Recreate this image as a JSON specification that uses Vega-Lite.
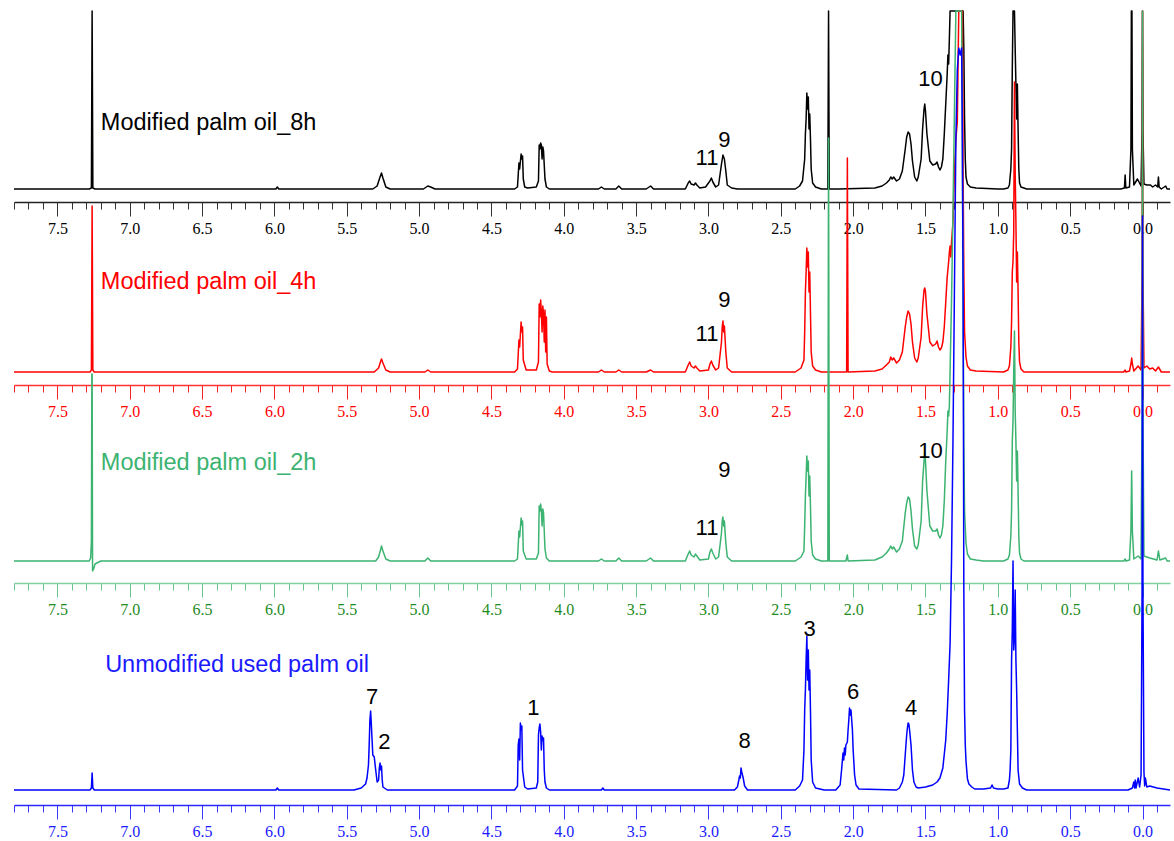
{
"$schema": "https://vega.github.io/schema/vega-lite/v6.json",
"padding": {"left": 13, "top": 10, "right": 3, "bottom": 0},
"background": "white",
"config": {"view": {"stroke": null}, "line": {"strokeJoin": "round", "strokeCap": "butt"}},
"bounds": "flush",
"spacing": 40,
"datasets": {
"k8": [{"x":7.8,"y":0},{"x":7.28,"y":0},{"x":7.265,"y":1},{"x":7.26,"y":178},{"x":7.255,"y":1},{"x":7.24,"y":0},{"x":5.99,"y":0},{"x":5.98,"y":2},{"x":5.97,"y":0},{"x":5.32,"y":0},{"x":5.29,"y":3},{"x":5.27,"y":12},{"x":5.26,"y":16},{"x":5.25,"y":11},{"x":5.23,"y":2},{"x":5.2,"y":0},{"x":4.97,"y":0},{"x":4.94,"y":3},{"x":4.92,"y":2},{"x":4.89,"y":0},{"x":4.34,"y":0},{"x":4.32,"y":2},{"x":4.31,"y":26},{"x":4.305,"y":20},{"x":4.295,"y":35},{"x":4.29,"y":30},{"x":4.285,"y":33},{"x":4.28,"y":10},{"x":4.27,"y":2},{"x":4.25,"y":1},{"x":4.19,"y":2},{"x":4.175,"y":8},{"x":4.17,"y":44},{"x":4.165,"y":40},{"x":4.16,"y":46},{"x":4.155,"y":44},{"x":4.15,"y":30},{"x":4.145,"y":42},{"x":4.14,"y":38},{"x":4.13,"y":10},{"x":4.12,"y":2},{"x":4.1,"y":0},{"x":3.76,"y":0},{"x":3.74,"y":2},{"x":3.72,"y":0},{"x":3.64,"y":0},{"x":3.62,"y":3},{"x":3.6,"y":0},{"x":3.43,"y":0},{"x":3.4,"y":3},{"x":3.38,"y":0},{"x":3.16,"y":0},{"x":3.14,"y":6},{"x":3.13,"y":8},{"x":3.12,"y":5},{"x":3.1,"y":4},{"x":3.09,"y":6},{"x":3.08,"y":4},{"x":3.06,"y":1},{"x":3.02,"y":2},{"x":2.99,"y":8},{"x":2.98,"y":11},{"x":2.97,"y":7},{"x":2.95,"y":2},{"x":2.93,"y":4},{"x":2.91,"y":25},{"x":2.9,"y":34},{"x":2.89,"y":30},{"x":2.88,"y":18},{"x":2.87,"y":4},{"x":2.84,"y":1},{"x":2.8,"y":0},{"x":2.4,"y":0},{"x":2.37,"y":3},{"x":2.35,"y":8},{"x":2.335,"y":30},{"x":2.33,"y":55},{"x":2.325,"y":70},{"x":2.32,"y":96},{"x":2.315,"y":80},{"x":2.31,"y":92},{"x":2.305,"y":60},{"x":2.3,"y":75},{"x":2.295,"y":50},{"x":2.29,"y":20},{"x":2.28,"y":6},{"x":2.26,"y":2},{"x":2.22,"y":0},{"x":2.175,"y":0},{"x":2.17,"y":178},{"x":2.165,"y":0},{"x":2.1,"y":0},{"x":1.85,"y":1},{"x":1.8,"y":3},{"x":1.77,"y":6},{"x":1.75,"y":9},{"x":1.74,"y":12},{"x":1.73,"y":10},{"x":1.72,"y":12},{"x":1.7,"y":8},{"x":1.68,"y":10},{"x":1.66,"y":18},{"x":1.64,"y":40},{"x":1.63,"y":52},{"x":1.62,"y":57},{"x":1.61,"y":55},{"x":1.6,"y":45},{"x":1.59,"y":28},{"x":1.575,"y":12},{"x":1.56,"y":8},{"x":1.55,"y":12},{"x":1.53,"y":30},{"x":1.52,"y":60},{"x":1.51,"y":80},{"x":1.505,"y":85},{"x":1.5,"y":78},{"x":1.49,"y":55},{"x":1.47,"y":28},{"x":1.45,"y":24},{"x":1.43,"y":25},{"x":1.42,"y":27},{"x":1.41,"y":22},{"x":1.4,"y":19},{"x":1.39,"y":22},{"x":1.38,"y":30},{"x":1.37,"y":55},{"x":1.36,"y":85},{"x":1.35,"y":115},{"x":1.345,"y":134},{"x":1.34,"y":125},{"x":1.335,"y":150},{"x":1.33,"y":178},{"x":1.24,"y":178},{"x":1.235,"y":140},{"x":1.23,"y":70},{"x":1.225,"y":30},{"x":1.22,"y":12},{"x":1.21,"y":5},{"x":1.19,"y":2},{"x":1.15,"y":1},{"x":1.0,"y":0},{"x":0.96,"y":0},{"x":0.93,"y":1},{"x":0.92,"y":4},{"x":0.91,"y":20},{"x":0.905,"y":40},{"x":0.9,"y":120},{"x":0.895,"y":178},{"x":0.885,"y":178},{"x":0.88,"y":140},{"x":0.875,"y":105},{"x":0.87,"y":70},{"x":0.865,"y":105},{"x":0.86,"y":60},{"x":0.855,"y":20},{"x":0.85,"y":6},{"x":0.84,"y":2},{"x":0.8,"y":0},{"x":0.15,"y":0},{"x":0.125,"y":1},{"x":0.12,"y":14},{"x":0.115,"y":1},{"x":0.09,"y":2},{"x":0.08,"y":40},{"x":0.077,"y":178},{"x":0.073,"y":178},{"x":0.07,"y":40},{"x":0.06,"y":4},{"x":0.035,"y":10},{"x":0.01,"y":3},{"x":0.003,"y":60},{"x":0,"y":178},{"x":-0.003,"y":60},{"x":-0.01,"y":5},{"x":-0.03,"y":4},{"x":-0.055,"y":4},{"x":-0.07,"y":2},{"x":-0.09,"y":4},{"x":-0.105,"y":2},{"x":-0.11,"y":12},{"x":-0.115,"y":2},{"x":-0.13,"y":0},{"x":-0.16,"y":3},{"x":-0.17,"y":0},{"x":-0.19,"y":0}],
"r4": [{"x":7.8,"y":0},{"x":7.275,"y":0},{"x":7.265,"y":2},{"x":7.26,"y":166},{"x":7.255,"y":2},{"x":7.245,"y":0},{"x":5.31,"y":0},{"x":5.28,"y":4},{"x":5.265,"y":11},{"x":5.26,"y":13},{"x":5.25,"y":9},{"x":5.23,"y":2},{"x":5.2,"y":0},{"x":4.96,"y":0},{"x":4.94,"y":2},{"x":4.92,"y":0},{"x":4.34,"y":0},{"x":4.32,"y":3},{"x":4.31,"y":32},{"x":4.305,"y":25},{"x":4.295,"y":50},{"x":4.29,"y":40},{"x":4.285,"y":45},{"x":4.28,"y":12},{"x":4.26,"y":2},{"x":4.19,"y":2},{"x":4.175,"y":10},{"x":4.17,"y":68},{"x":4.165,"y":55},{"x":4.16,"y":72},{"x":4.155,"y":60},{"x":4.15,"y":40},{"x":4.145,"y":66},{"x":4.14,"y":58},{"x":4.135,"y":30},{"x":4.13,"y":62},{"x":4.125,"y":20},{"x":4.12,"y":55},{"x":4.115,"y":8},{"x":4.1,"y":1},{"x":4.08,"y":0},{"x":3.76,"y":0},{"x":3.74,"y":2},{"x":3.72,"y":0},{"x":3.64,"y":0},{"x":3.62,"y":2},{"x":3.6,"y":0},{"x":3.43,"y":0},{"x":3.4,"y":2},{"x":3.38,"y":0},{"x":3.16,"y":0},{"x":3.14,"y":7},{"x":3.13,"y":10},{"x":3.12,"y":6},{"x":3.1,"y":4},{"x":3.09,"y":6},{"x":3.08,"y":4},{"x":3.06,"y":1},{"x":3.0,"y":2},{"x":2.99,"y":8},{"x":2.98,"y":11},{"x":2.97,"y":7},{"x":2.95,"y":2},{"x":2.93,"y":4},{"x":2.91,"y":30},{"x":2.905,"y":45},{"x":2.9,"y":51},{"x":2.895,"y":40},{"x":2.89,"y":46},{"x":2.88,"y":20},{"x":2.87,"y":4},{"x":2.84,"y":0},{"x":2.4,"y":0},{"x":2.36,"y":4},{"x":2.34,"y":12},{"x":2.335,"y":40},{"x":2.33,"y":80},{"x":2.325,"y":100},{"x":2.32,"y":124},{"x":2.315,"y":105},{"x":2.31,"y":120},{"x":2.305,"y":80},{"x":2.3,"y":100},{"x":2.295,"y":60},{"x":2.29,"y":20},{"x":2.28,"y":6},{"x":2.26,"y":2},{"x":2.22,"y":0},{"x":2.045,"y":0},{"x":2.04,"y":214},{"x":2.035,"y":0},{"x":1.85,"y":1},{"x":1.8,"y":3},{"x":1.77,"y":7},{"x":1.75,"y":10},{"x":1.74,"y":15},{"x":1.73,"y":12},{"x":1.72,"y":14},{"x":1.7,"y":9},{"x":1.68,"y":12},{"x":1.66,"y":20},{"x":1.64,"y":45},{"x":1.63,"y":55},{"x":1.62,"y":61},{"x":1.61,"y":58},{"x":1.6,"y":48},{"x":1.59,"y":30},{"x":1.575,"y":14},{"x":1.56,"y":10},{"x":1.55,"y":14},{"x":1.53,"y":35},{"x":1.52,"y":65},{"x":1.51,"y":82},{"x":1.505,"y":84},{"x":1.5,"y":80},{"x":1.49,"y":58},{"x":1.47,"y":30},{"x":1.45,"y":26},{"x":1.43,"y":28},{"x":1.42,"y":31},{"x":1.41,"y":25},{"x":1.4,"y":22},{"x":1.39,"y":24},{"x":1.38,"y":30},{"x":1.37,"y":45},{"x":1.36,"y":70},{"x":1.35,"y":95},{"x":1.34,"y":110},{"x":1.335,"y":120},{"x":1.33,"y":126},{"x":1.325,"y":115},{"x":1.32,"y":130},{"x":1.31,"y":150},{"x":1.3,"y":200},{"x":1.29,"y":233},{"x":1.28,"y":250},{"x":1.27,"y":361},{"x":1.245,"y":361},{"x":1.24,"y":200},{"x":1.235,"y":100},{"x":1.23,"y":40},{"x":1.22,"y":15},{"x":1.21,"y":6},{"x":1.19,"y":2},{"x":1.15,"y":1},{"x":0.96,"y":0},{"x":0.93,"y":2},{"x":0.92,"y":6},{"x":0.91,"y":25},{"x":0.905,"y":50},{"x":0.9,"y":100},{"x":0.895,"y":111},{"x":0.89,"y":140},{"x":0.885,"y":290},{"x":0.88,"y":200},{"x":0.875,"y":150},{"x":0.87,"y":90},{"x":0.865,"y":120},{"x":0.86,"y":80},{"x":0.855,"y":30},{"x":0.85,"y":10},{"x":0.84,"y":3},{"x":0.82,"y":0},{"x":0.13,"y":0},{"x":0.12,"y":2},{"x":0.115,"y":0},{"x":0.09,"y":1},{"x":0.08,"y":8},{"x":0.075,"y":14},{"x":0.07,"y":8},{"x":0.06,"y":1},{"x":0.03,"y":6},{"x":0.01,"y":2},{"x":0.003,"y":100},{"x":0,"y":361},{"x":-0.003,"y":100},{"x":-0.01,"y":4},{"x":-0.03,"y":6},{"x":-0.05,"y":3},{"x":-0.07,"y":4},{"x":-0.09,"y":1},{"x":-0.11,"y":5},{"x":-0.13,"y":0},{"x":-0.19,"y":0}],
"g2": [{"x":7.8,"y":0},{"x":7.28,"y":0},{"x":7.27,"y":3},{"x":7.265,"y":20},{"x":7.262,"y":187},{"x":7.26,"y":187},{"x":7.257,"y":-10},{"x":7.25,"y":-8},{"x":7.24,"y":-3},{"x":7.2,"y":0},{"x":5.3,"y":0},{"x":5.28,"y":4},{"x":5.265,"y":12},{"x":5.26,"y":15},{"x":5.25,"y":10},{"x":5.23,"y":2},{"x":5.2,"y":0},{"x":4.96,"y":0},{"x":4.94,"y":3},{"x":4.92,"y":0},{"x":4.34,"y":0},{"x":4.32,"y":2},{"x":4.31,"y":30},{"x":4.305,"y":24},{"x":4.295,"y":43},{"x":4.29,"y":36},{"x":4.285,"y":40},{"x":4.28,"y":10},{"x":4.26,"y":2},{"x":4.19,"y":2},{"x":4.175,"y":8},{"x":4.17,"y":55},{"x":4.165,"y":50},{"x":4.16,"y":57},{"x":4.155,"y":50},{"x":4.15,"y":35},{"x":4.145,"y":52},{"x":4.14,"y":48},{"x":4.13,"y":12},{"x":4.12,"y":3},{"x":4.1,"y":0},{"x":3.76,"y":0},{"x":3.74,"y":2},{"x":3.72,"y":0},{"x":3.64,"y":0},{"x":3.62,"y":3},{"x":3.6,"y":0},{"x":3.43,"y":0},{"x":3.4,"y":3},{"x":3.38,"y":0},{"x":3.16,"y":0},{"x":3.14,"y":7},{"x":3.13,"y":10},{"x":3.12,"y":6},{"x":3.1,"y":4},{"x":3.09,"y":7},{"x":3.08,"y":5},{"x":3.06,"y":1},{"x":3.0,"y":2},{"x":2.99,"y":9},{"x":2.98,"y":12},{"x":2.97,"y":8},{"x":2.95,"y":2},{"x":2.93,"y":4},{"x":2.91,"y":28},{"x":2.905,"y":40},{"x":2.9,"y":44},{"x":2.895,"y":35},{"x":2.89,"y":40},{"x":2.88,"y":18},{"x":2.87,"y":4},{"x":2.84,"y":0},{"x":2.4,"y":0},{"x":2.36,"y":4},{"x":2.34,"y":10},{"x":2.335,"y":35},{"x":2.33,"y":65},{"x":2.325,"y":85},{"x":2.32,"y":105},{"x":2.315,"y":90},{"x":2.31,"y":100},{"x":2.305,"y":65},{"x":2.3,"y":85},{"x":2.295,"y":55},{"x":2.29,"y":20},{"x":2.28,"y":6},{"x":2.26,"y":2},{"x":2.22,"y":0},{"x":2.175,"y":0},{"x":2.17,"y":423},{"x":2.165,"y":0},{"x":2.05,"y":0},{"x":2.04,"y":6},{"x":2.035,"y":0},{"x":1.85,"y":1},{"x":1.8,"y":4},{"x":1.77,"y":8},{"x":1.75,"y":12},{"x":1.74,"y":15},{"x":1.73,"y":12},{"x":1.72,"y":14},{"x":1.7,"y":9},{"x":1.68,"y":12},{"x":1.66,"y":20},{"x":1.64,"y":48},{"x":1.63,"y":58},{"x":1.62,"y":64},{"x":1.61,"y":62},{"x":1.6,"y":50},{"x":1.59,"y":32},{"x":1.575,"y":15},{"x":1.56,"y":12},{"x":1.55,"y":16},{"x":1.53,"y":40},{"x":1.52,"y":80},{"x":1.51,"y":100},{"x":1.505,"y":108},{"x":1.5,"y":100},{"x":1.49,"y":70},{"x":1.47,"y":35},{"x":1.45,"y":30},{"x":1.43,"y":30},{"x":1.42,"y":32},{"x":1.41,"y":26},{"x":1.4,"y":23},{"x":1.39,"y":26},{"x":1.38,"y":35},{"x":1.37,"y":60},{"x":1.36,"y":100},{"x":1.35,"y":130},{"x":1.345,"y":150},{"x":1.34,"y":145},{"x":1.335,"y":155},{"x":1.33,"y":190},{"x":1.32,"y":260},{"x":1.31,"y":350},{"x":1.3,"y":450},{"x":1.29,"y":550},{"x":1.25,"y":550},{"x":1.245,"y":400},{"x":1.24,"y":250},{"x":1.235,"y":120},{"x":1.23,"y":50},{"x":1.22,"y":18},{"x":1.21,"y":7},{"x":1.19,"y":2},{"x":1.15,"y":1},{"x":1.1,"y":0},{"x":0.96,"y":0},{"x":0.93,"y":2},{"x":0.92,"y":6},{"x":0.91,"y":25},{"x":0.905,"y":50},{"x":0.9,"y":120},{"x":0.895,"y":140},{"x":0.89,"y":190},{"x":0.885,"y":230},{"x":0.88,"y":150},{"x":0.875,"y":120},{"x":0.87,"y":80},{"x":0.865,"y":110},{"x":0.86,"y":70},{"x":0.855,"y":25},{"x":0.85,"y":8},{"x":0.84,"y":2},{"x":0.82,"y":0},{"x":0.13,"y":0},{"x":0.12,"y":2},{"x":0.115,"y":0},{"x":0.09,"y":1},{"x":0.08,"y":30},{"x":0.075,"y":90},{"x":0.07,"y":30},{"x":0.06,"y":2},{"x":0.03,"y":5},{"x":0.01,"y":2},{"x":0.003,"y":150},{"x":0,"y":550},{"x":-0.003,"y":150},{"x":-0.01,"y":5},{"x":-0.03,"y":4},{"x":-0.05,"y":3},{"x":-0.1,"y":1},{"x":-0.11,"y":10},{"x":-0.12,"y":1},{"x":-0.16,"y":3},{"x":-0.17,"y":0},{"x":-0.19,"y":0}],
"b0": [{"x":7.8,"y":0},{"x":7.275,"y":0},{"x":7.265,"y":2},{"x":7.26,"y":17},{"x":7.255,"y":2},{"x":7.245,"y":0},{"x":5.99,"y":0},{"x":5.98,"y":2},{"x":5.97,"y":0},{"x":5.45,"y":0},{"x":5.4,"y":2},{"x":5.37,"y":6},{"x":5.36,"y":12},{"x":5.35,"y":25},{"x":5.345,"y":45},{"x":5.34,"y":70},{"x":5.335,"y":79},{"x":5.33,"y":65},{"x":5.325,"y":50},{"x":5.32,"y":35},{"x":5.31,"y":33},{"x":5.3,"y":20},{"x":5.29,"y":8},{"x":5.28,"y":10},{"x":5.275,"y":22},{"x":5.27,"y":27},{"x":5.265,"y":20},{"x":5.26,"y":24},{"x":5.255,"y":10},{"x":5.25,"y":3},{"x":5.22,"y":0},{"x":4.34,"y":0},{"x":4.32,"y":4},{"x":4.315,"y":45},{"x":4.31,"y":51},{"x":4.305,"y":30},{"x":4.3,"y":67},{"x":4.295,"y":60},{"x":4.29,"y":64},{"x":4.285,"y":20},{"x":4.27,"y":3},{"x":4.25,"y":1},{"x":4.19,"y":2},{"x":4.18,"y":8},{"x":4.175,"y":55},{"x":4.17,"y":62},{"x":4.165,"y":66},{"x":4.16,"y":58},{"x":4.155,"y":40},{"x":4.15,"y":54},{"x":4.145,"y":50},{"x":4.14,"y":52},{"x":4.135,"y":20},{"x":4.13,"y":8},{"x":4.12,"y":2},{"x":4.1,"y":0},{"x":3.74,"y":0},{"x":3.73,"y":2},{"x":3.72,"y":0},{"x":2.82,"y":0},{"x":2.8,"y":3},{"x":2.79,"y":10},{"x":2.785,"y":14},{"x":2.78,"y":12},{"x":2.775,"y":22},{"x":2.77,"y":18},{"x":2.765,"y":15},{"x":2.76,"y":12},{"x":2.75,"y":4},{"x":2.73,"y":0},{"x":2.4,"y":0},{"x":2.37,"y":4},{"x":2.35,"y":10},{"x":2.34,"y":40},{"x":2.335,"y":80},{"x":2.33,"y":100},{"x":2.325,"y":130},{"x":2.32,"y":154},{"x":2.315,"y":110},{"x":2.31,"y":140},{"x":2.305,"y":100},{"x":2.3,"y":120},{"x":2.295,"y":80},{"x":2.29,"y":30},{"x":2.28,"y":8},{"x":2.26,"y":2},{"x":2.2,"y":0},{"x":2.12,"y":0},{"x":2.09,"y":5},{"x":2.08,"y":20},{"x":2.07,"y":37},{"x":2.065,"y":30},{"x":2.06,"y":42},{"x":2.055,"y":35},{"x":2.05,"y":45},{"x":2.04,"y":48},{"x":2.035,"y":60},{"x":2.03,"y":70},{"x":2.025,"y":82},{"x":2.02,"y":75},{"x":2.015,"y":80},{"x":2.01,"y":70},{"x":2.005,"y":60},{"x":2.0,"y":40},{"x":1.99,"y":15},{"x":1.98,"y":5},{"x":1.96,"y":1},{"x":1.7,"y":0},{"x":1.68,"y":2},{"x":1.66,"y":8},{"x":1.65,"y":15},{"x":1.64,"y":35},{"x":1.63,"y":55},{"x":1.625,"y":62},{"x":1.62,"y":67},{"x":1.615,"y":66},{"x":1.61,"y":60},{"x":1.6,"y":45},{"x":1.59,"y":20},{"x":1.58,"y":8},{"x":1.565,"y":3},{"x":1.55,"y":2},{"x":1.5,"y":3},{"x":1.45,"y":5},{"x":1.42,"y":8},{"x":1.4,"y":12},{"x":1.38,"y":22},{"x":1.36,"y":50},{"x":1.35,"y":76},{"x":1.34,"y":110},{"x":1.33,"y":146},{"x":1.32,"y":230},{"x":1.31,"y":350},{"x":1.3,"y":500},{"x":1.29,"y":650},{"x":1.28,"y":720},{"x":1.27,"y":742},{"x":1.26,"y":735},{"x":1.25,"y":742},{"x":1.245,"y":650},{"x":1.24,"y":500},{"x":1.235,"y":200},{"x":1.23,"y":80},{"x":1.225,"y":45},{"x":1.22,"y":29},{"x":1.21,"y":11},{"x":1.2,"y":6},{"x":1.18,"y":3},{"x":1.16,"y":1},{"x":1.1,"y":1},{"x":1.05,"y":2},{"x":1.04,"y":5},{"x":1.03,"y":2},{"x":1.0,"y":1},{"x":0.96,"y":1},{"x":0.93,"y":2},{"x":0.92,"y":10},{"x":0.915,"y":20},{"x":0.91,"y":40},{"x":0.905,"y":130},{"x":0.9,"y":160},{"x":0.895,"y":229},{"x":0.89,"y":140},{"x":0.885,"y":152},{"x":0.88,"y":200},{"x":0.875,"y":130},{"x":0.87,"y":100},{"x":0.865,"y":60},{"x":0.86,"y":20},{"x":0.85,"y":6},{"x":0.83,"y":2},{"x":0.8,"y":0},{"x":0.1,"y":0},{"x":0.07,"y":2},{"x":0.06,"y":8},{"x":0.055,"y":2},{"x":0.05,"y":10},{"x":0.045,"y":2},{"x":0.03,"y":12},{"x":0.02,"y":3},{"x":0.01,"y":15},{"x":0.003,"y":200},{"x":0,"y":574},{"x":-0.003,"y":200},{"x":-0.01,"y":18},{"x":-0.015,"y":4},{"x":-0.02,"y":12},{"x":-0.03,"y":3},{"x":-0.05,"y":4},{"x":-0.1,"y":2},{"x":-0.19,"y":0}],
"titles": [{"p":1,"x":7.2,"y":66,"t":"Modified palm oil_8h"},{"p":2,"x":7.2,"y":90,"t":"Modified palm oil_4h"},{"p":3,"x":7.2,"y":98,"t":"Modified palm oil_2h"},{"p":4,"x":7.17,"y":125,"t":"Unmodified used palm oil"}],
"peaks": [{"p":1,"x":1.466,"y":110,"t":"10"},{"p":1,"x":3.01,"y":31,"t":"11"},{"p":1,"x":2.89,"y":49,"t":"9"},{"p":2,"x":2.89,"y":72,"t":"9"},{"p":2,"x":3.01,"y":38,"t":"11"},{"p":3,"x":1.466,"y":110,"t":"10"},{"p":3,"x":2.89,"y":91,"t":"9"},{"p":3,"x":3.01,"y":33,"t":"11"},{"p":4,"x":5.325,"y":93,"t":"7"},{"p":4,"x":5.24,"y":48,"t":"2"},{"p":4,"x":4.21,"y":82,"t":"1"},{"p":4,"x":2.75,"y":49,"t":"8"},{"p":4,"x":2.3,"y":161,"t":"3"},{"p":4,"x":2.0,"y":98,"t":"6"},{"p":4,"x":1.6,"y":82,"t":"4"}]
},
"vconcat": [
{"width": 1156, "height": 191,
 "encoding": {
  "x": {"field": "x", "type": "quantitative", "scale": {"domain": [7.8, -0.19], "nice": false, "zero": false},
   "axis": {"values": [7.8,7.7,7.6,7.5,7.4,7.3,7.2,7.1,7.0,6.9,6.8,6.7,6.6,6.5,6.4,6.3,6.2,6.1,6.0,5.9,5.8,5.7,5.6,5.5,5.4,5.3,5.2,5.1,5.0,4.9,4.8,4.7,4.6,4.5,4.4,4.3,4.2,4.1,4.0,3.9,3.8,3.7,3.6,3.5,3.4,3.3,3.2,3.1,3.0,2.9,2.8,2.7,2.6,2.5,2.4,2.3,2.2,2.1,2.0,1.9,1.8,1.7,1.6,1.5,1.4,1.3,1.2,1.1,1.0,0.9,0.8,0.7,0.6,0.5,0.4,0.3,0.2,0.1,0,-0.1],
    "title": null, "grid": false, "labelOverlap": false, "labelFlush": false,
    "tickSize": {"condition": {"test": "abs(datum.value*2 - round(datum.value*2)) < 0.001", "value": 14}, "value": 7},
    "labelExpr": "abs(datum.value*2 - round(datum.value*2)) < 0.001 ? format(datum.value, '.1f') : ''",
    "domainColor": "#222222", "tickColor": "#333333", "labelColor": "#000000", "domainWidth": 1.5, "tickWidth": 1,
    "labelFont": "Liberation Serif", "labelFontSize": 16, "labelPadding": 4}},
  "y": {"field": "y", "type": "quantitative", "scale": {"domain": [-13, 178], "nice": false, "zero": false}, "axis": null}
 },
 "layer": [
  {"data": {"name": "k8"}, "mark": {"type": "line", "color": "#000000", "strokeWidth": 1.5}},
  {"data": {"name": "titles"}, "transform": [{"filter": "datum.p == 1"}], "mark": {"type": "text", "align": "left", "baseline": "middle", "font": "Liberation Sans", "fontSize": 23.5, "color": "#000000"}, "encoding": {"text": {"field": "t"}}},
  {"data": {"name": "peaks"}, "transform": [{"filter": "datum.p == 1"}], "mark": {"type": "text", "align": "center", "baseline": "middle", "font": "Liberation Sans", "fontSize": 22, "color": "#000000"}, "encoding": {"text": {"field": "t"}}}
 ]},
{"width": 1156, "height": 143,
 "encoding": {
  "x": {"field": "x", "type": "quantitative", "scale": {"domain": [7.8, -0.19], "nice": false, "zero": false},
   "axis": {"values": [7.8,7.7,7.6,7.5,7.4,7.3,7.2,7.1,7.0,6.9,6.8,6.7,6.6,6.5,6.4,6.3,6.2,6.1,6.0,5.9,5.8,5.7,5.6,5.5,5.4,5.3,5.2,5.1,5.0,4.9,4.8,4.7,4.6,4.5,4.4,4.3,4.2,4.1,4.0,3.9,3.8,3.7,3.6,3.5,3.4,3.3,3.2,3.1,3.0,2.9,2.8,2.7,2.6,2.5,2.4,2.3,2.2,2.1,2.0,1.9,1.8,1.7,1.6,1.5,1.4,1.3,1.2,1.1,1.0,0.9,0.8,0.7,0.6,0.5,0.4,0.3,0.2,0.1,0,-0.1],
    "title": null, "grid": false, "labelOverlap": false, "labelFlush": false,
    "tickSize": {"condition": {"test": "abs(datum.value*2 - round(datum.value*2)) < 0.001", "value": 14}, "value": 7},
    "labelExpr": "abs(datum.value*2 - round(datum.value*2)) < 0.001 ? format(datum.value, '.1f') : ''",
    "domainColor": "#ff3333", "tickColor": "#ff2222", "labelColor": "#ff0000", "domainWidth": 1.5, "tickWidth": 1,
    "labelFont": "Liberation Serif", "labelFontSize": 16, "labelPadding": 4}},
  "y": {"field": "y", "type": "quantitative", "scale": {"domain": [-13, 130], "nice": false, "zero": false}, "axis": null}
 },
 "layer": [
  {"data": {"name": "r4"}, "mark": {"type": "line", "color": "#ff0000", "strokeWidth": 1.5}},
  {"data": {"name": "titles"}, "transform": [{"filter": "datum.p == 2"}], "mark": {"type": "text", "align": "left", "baseline": "middle", "font": "Liberation Sans", "fontSize": 23.5, "color": "#ff0000"}, "encoding": {"text": {"field": "t"}}},
  {"data": {"name": "peaks"}, "transform": [{"filter": "datum.p == 2"}], "mark": {"type": "text", "align": "center", "baseline": "middle", "font": "Liberation Sans", "fontSize": 22, "color": "#000000"}, "encoding": {"text": {"field": "t"}}}
 ]},
{"width": 1156, "height": 158,
 "encoding": {
  "x": {"field": "x", "type": "quantitative", "scale": {"domain": [7.8, -0.19], "nice": false, "zero": false},
   "axis": {"values": [7.8,7.7,7.6,7.5,7.4,7.3,7.2,7.1,7.0,6.9,6.8,6.7,6.6,6.5,6.4,6.3,6.2,6.1,6.0,5.9,5.8,5.7,5.6,5.5,5.4,5.3,5.2,5.1,5.0,4.9,4.8,4.7,4.6,4.5,4.4,4.3,4.2,4.1,4.0,3.9,3.8,3.7,3.6,3.5,3.4,3.3,3.2,3.1,3.0,2.9,2.8,2.7,2.6,2.5,2.4,2.3,2.2,2.1,2.0,1.9,1.8,1.7,1.6,1.5,1.4,1.3,1.2,1.1,1.0,0.9,0.8,0.7,0.6,0.5,0.4,0.3,0.2,0.1,0,-0.1],
    "title": null, "grid": false, "labelOverlap": false, "labelFlush": false,
    "tickSize": {"condition": {"test": "abs(datum.value*2 - round(datum.value*2)) < 0.001", "value": 14}, "value": 7},
    "labelExpr": "abs(datum.value*2 - round(datum.value*2)) < 0.001 ? format(datum.value, '.1f') : ''",
    "domainColor": "#7fcf9f", "tickColor": "#6cc28e", "labelColor": "#1e8c1e", "domainWidth": 1.5, "tickWidth": 1,
    "labelFont": "Liberation Serif", "labelFontSize": 16, "labelPadding": 4}},
  "y": {"field": "y", "type": "quantitative", "scale": {"domain": [-22, 136], "nice": false, "zero": false}, "axis": null}
 },
 "layer": [
  {"data": {"name": "g2"}, "mark": {"type": "line", "color": "#3cb371", "strokeWidth": 1.5}},
  {"data": {"name": "titles"}, "transform": [{"filter": "datum.p == 3"}], "mark": {"type": "text", "align": "left", "baseline": "middle", "font": "Liberation Sans", "fontSize": 23.5, "color": "#3cb371"}, "encoding": {"text": {"field": "t"}}},
  {"data": {"name": "peaks"}, "transform": [{"filter": "datum.p == 3"}], "mark": {"type": "text", "align": "center", "baseline": "middle", "font": "Liberation Sans", "fontSize": 22, "color": "#000000"}, "encoding": {"text": {"field": "t"}}}
 ]},
{"width": 1156, "height": 182,
 "encoding": {
  "x": {"field": "x", "type": "quantitative", "scale": {"domain": [7.8, -0.19], "nice": false, "zero": false},
   "axis": {"values": [7.8,7.7,7.6,7.5,7.4,7.3,7.2,7.1,7.0,6.9,6.8,6.7,6.6,6.5,6.4,6.3,6.2,6.1,6.0,5.9,5.8,5.7,5.6,5.5,5.4,5.3,5.2,5.1,5.0,4.9,4.8,4.7,4.6,4.5,4.4,4.3,4.2,4.1,4.0,3.9,3.8,3.7,3.6,3.5,3.4,3.3,3.2,3.1,3.0,2.9,2.8,2.7,2.6,2.5,2.4,2.3,2.2,2.1,2.0,1.9,1.8,1.7,1.6,1.5,1.4,1.3,1.2,1.1,1.0,0.9,0.8,0.7,0.6,0.5,0.4,0.3,0.2,0.1,0,-0.1],
    "title": null, "grid": false, "labelOverlap": false, "labelFlush": false,
    "tickSize": {"condition": {"test": "abs(datum.value*2 - round(datum.value*2)) < 0.001", "value": 14}, "value": 7},
    "labelExpr": "abs(datum.value*2 - round(datum.value*2)) < 0.001 ? format(datum.value, '.1f') : ''",
    "domainColor": "#2a2aff", "tickColor": "#3a3aff", "labelColor": "#1a1aff", "domainWidth": 1.5, "tickWidth": 1,
    "labelFont": "Liberation Serif", "labelFontSize": 16, "labelPadding": 4}},
  "y": {"field": "y", "type": "quantitative", "scale": {"domain": [-15, 167], "nice": false, "zero": false}, "axis": null}
 },
 "layer": [
  {"data": {"name": "b0"}, "mark": {"type": "line", "color": "#0000ff", "strokeWidth": 1.5}},
  {"data": {"name": "titles"}, "transform": [{"filter": "datum.p == 4"}], "mark": {"type": "text", "align": "left", "baseline": "middle", "font": "Liberation Sans", "fontSize": 23.5, "color": "#1a1aff"}, "encoding": {"text": {"field": "t"}}},
  {"data": {"name": "peaks"}, "transform": [{"filter": "datum.p == 4"}], "mark": {"type": "text", "align": "center", "baseline": "middle", "font": "Liberation Sans", "fontSize": 22, "color": "#000000"}, "encoding": {"text": {"field": "t"}}}
 ]}
]
}
